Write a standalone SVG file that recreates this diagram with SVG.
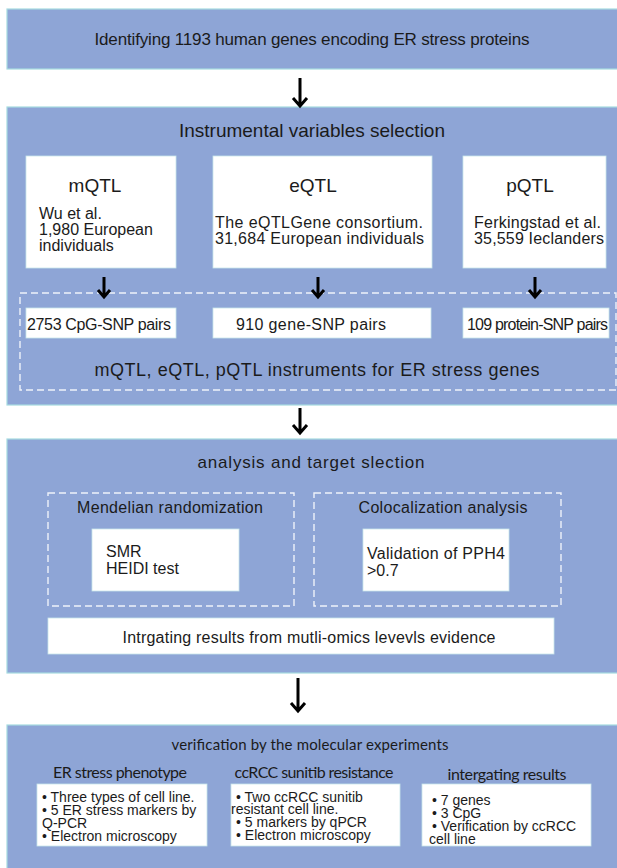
<svg xmlns="http://www.w3.org/2000/svg" width="617" height="868" viewBox="0 0 617 868">
<style>
.panel{fill:#8ea5d6;stroke:#a6dbe0;stroke-width:1.2}
.wbox{fill:#ffffff;stroke:#c9e6ea;stroke-width:0.8}
.dash{fill:none;stroke:#eef2fa;stroke-width:1.4;stroke-dasharray:7 4}
text{font-family:"Liberation Sans",Arial,sans-serif;fill:#1b1b1b}
.cal{font-family:Lato,"Open Sans",sans-serif}
.arrow{fill:none;stroke:#000;stroke-width:3;stroke-linejoin:miter}
.li{font-size:14px}
</style>
<rect width="617" height="868" fill="#ffffff"/>

<g id="step1">
<rect class="panel" x="7" y="9" width="615" height="60"/>
<text x="312" y="45" font-size="17" text-anchor="middle" textLength="435">Identifying 1193 human genes encoding ER stress proteins</text>
</g>

<g id="step2">
<rect class="panel" x="7" y="107" width="615" height="298"/>
<text x="312" y="137" font-size="19" text-anchor="middle" textLength="266">Instrumental variables selection</text>
</g>

<g id="mqtl">
<rect class="wbox" x="26" y="156" width="150" height="112"/>
<text x="95" y="192" font-size="19" text-anchor="middle">mQTL</text>
<text x="39" y="219" font-size="16">Wu et al.</text>
<text x="39" y="235" font-size="16">1,980 European</text>
<text x="39" y="251" font-size="16">individuals</text>
</g>

<g id="eqtl">
<rect class="wbox" x="213" y="156" width="219" height="112"/>
<text x="313" y="192" font-size="19" text-anchor="middle">eQTL</text>
<text x="215" y="228" font-size="16" textLength="208">The eQTLGene consortium.</text>
<text x="215" y="244" font-size="16" textLength="209">31,684 European individuals</text>
</g>

<g id="pqtl">
<rect class="wbox" x="463" y="156" width="143" height="112"/>
<text x="530" y="192" font-size="19" text-anchor="middle">pQTL</text>
<text x="474" y="228" font-size="16" textLength="127">Ferkingstad et al.</text>
<text x="474" y="244" font-size="16" textLength="130">35,559 Ieclanders</text>
</g>

<g id="instruments">
<rect class="dash" x="20" y="293" width="596" height="97"/>
<text x="317" y="376" font-size="18" text-anchor="middle" textLength="445">mQTL, eQTL, pQTL instruments for ER stress genes</text>
</g>

<g id="cpg">
<rect class="wbox" x="26" y="308" width="150" height="30"/>
<text x="27" y="330" font-size="16" textLength="144">2753 CpG-SNP pairs</text>
</g>

<g id="gene">
<rect class="wbox" x="213" y="308" width="218" height="30"/>
<text x="311" y="330" font-size="16" text-anchor="middle" textLength="150">910 gene-SNP pairs</text>
</g>

<g id="protein">
<rect class="wbox" x="463" y="308" width="146" height="30"/>
<text x="467" y="330" font-size="16" textLength="141">109 protein-SNP pairs</text>
</g>

<g id="step3">
<rect class="panel" x="7" y="439" width="615" height="234"/>
<text x="311" y="468" font-size="17" text-anchor="middle" textLength="227">analysis and target slection</text>
</g>

<g id="mr">
<rect class="dash" x="48" y="493" width="246" height="113"/>
<text x="170" y="513" font-size="16" text-anchor="middle" textLength="186">Mendelian randomization</text>
<rect class="wbox" x="92" y="529" width="147" height="62"/>
<text x="106" y="557" font-size="16">SMR</text>
<text x="106" y="574" font-size="16">HEIDI test</text>
</g>

<g id="coloc">
<rect class="dash" x="314" y="493" width="247" height="113"/>
<text x="443" y="513" font-size="16" text-anchor="middle" textLength="169">Colocalization analysis</text>
<rect class="wbox" x="363" y="529" width="146" height="62"/>
<text x="367" y="559" font-size="16" textLength="138">Validation of PPH4</text>
<text x="367" y="576" font-size="16">&gt;0.7</text>
</g>

<g id="integrating">
<rect class="wbox" x="48" y="618" width="506" height="36"/>
<text x="309" y="643" font-size="16" text-anchor="middle" textLength="373">Intrgating results from mutli-omics levevls evidence</text>
</g>

<g id="step4">
<rect class="panel" x="7" y="725" width="615" height="150"/>
<text class="cal" x="310" y="750" font-size="15" text-anchor="middle" textLength="277">verification by the molecular experiments</text>
</g>

<g id="phenotype">
<text class="cal" x="120" y="778" font-size="16" text-anchor="middle" textLength="134">ER stress phenotype</text>
<rect class="wbox" x="37" y="784" width="170" height="62"/>
<text class="li" x="42" y="802">• Three types of cell line.</text>
<text class="li" x="42" y="815">• 5 ER stress markers by</text>
<text class="li" x="42" y="828">Q-PCR</text>
<text class="li" x="42" y="841">•  Electron microscopy</text>
</g>

<g id="sunitib">
<text class="cal" x="314" y="778" font-size="16" text-anchor="middle" textLength="159">ccRCC sunitib resistance</text>
<rect class="wbox" x="231" y="784" width="169" height="62"/>
<text class="li" x="236" y="802">• Two ccRCC sunitib</text>
<text class="li" x="231" y="814">resistant cell line.</text>
<text class="li" x="236" y="827">•  5 markers by qPCR</text>
<text class="li" x="236" y="840">•  Electron microscopy</text>
</g>

<g id="results">
<text class="cal" x="507" y="780" font-size="16" text-anchor="middle" textLength="119">intergating results</text>
<rect class="wbox" x="422" y="784" width="169" height="62"/>
<text class="li" x="432" y="805">•  7 genes</text>
<text class="li" x="432" y="818">•  3 CpG</text>
<text class="li" x="432" y="831">•  Verification by ccRCC</text>
<text class="li" x="429" y="844">cell line</text>
</g>

<g id="connectors">
<path class="arrow" d="M300 78 V106 M293 98 L300 106 L307 98"/>
<path class="arrow" d="M104 277 V297 M98 290 L104 297 L110 290"/>
<path class="arrow" d="M318 277 V297 M312 290 L318 297 L324 290"/>
<path class="arrow" d="M535 277 V297 M529 290 L535 297 L541 290"/>
<path class="arrow" d="M300 408 V433 M293 425 L300 433 L307 425"/>
<path class="arrow" d="M298 678 V711 M291 703 L298 711 L305 703"/>
</g>
</svg>
